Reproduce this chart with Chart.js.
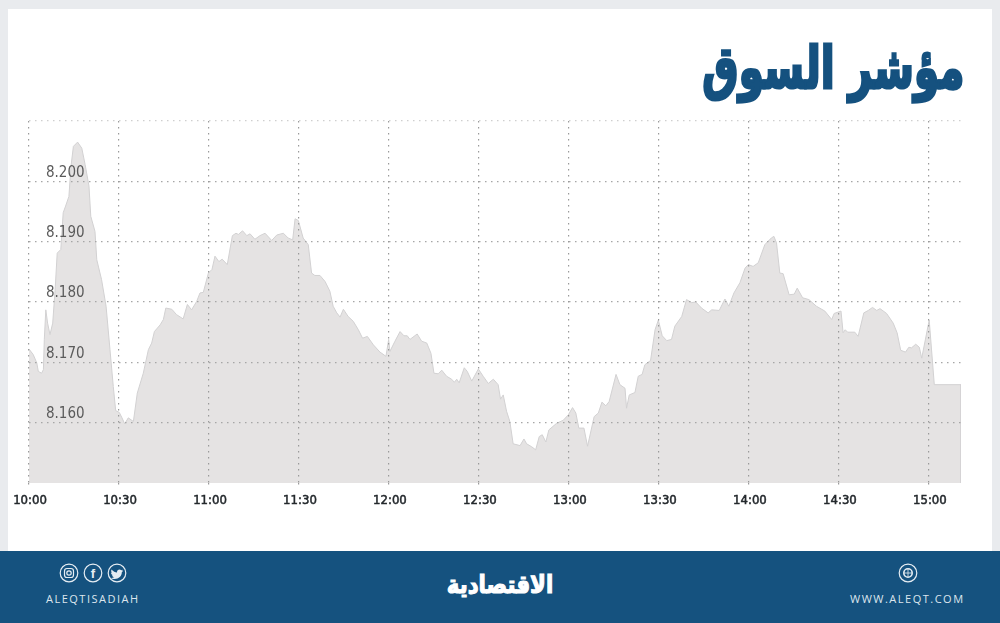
<!DOCTYPE html>
<html lang="ar">

<head>
    <meta charset="UTF-8" />
    <title>مؤشر السوق</title>
    <script src="https://cdn.jsdelivr.net/npm/chart.js@4"></script>
    <style>
        html, body { margin: 0; padding: 0; width: 1000px; height: 623px; overflow: hidden; background: #e9ebee; }
        .card { position: absolute; left: 8px; top: 9px; width: 984px; height: 542px; background: #fff; }
        #grafico { position: absolute; left: 0; top: 0; }
        .titulo { position: absolute; right: 36px; top: 28px; color: #15517f; font: bold 58px "DejaVu Sans", sans-serif; line-height: 80px; -webkit-text-stroke: 3px #15517f; direction: rtl; white-space: nowrap; transform: scaleX(0.7); transform-origin: right center; }
        .rodape { position: absolute; left: 0; top: 551px; width: 1000px; height: 72px; background: #15527f; }
        .logo { position: absolute; left: 400px; width: 200px; top: 14px; text-align: center; color: #fff; font: bold 25px "DejaVu Sans", sans-serif; line-height: 40px; -webkit-text-stroke: 1.2px #fff; direction: rtl; transform: scaleX(0.85); }
        .link { position: absolute; top: 41px; color: #dde6ee; font: 11px "Open Sans", sans-serif; line-height: 14px; letter-spacing: 1.5px; white-space: nowrap; }
        svg.icones { position: absolute; left: 0; top: 0; }
    </style>
</head>

<body>
    <div class="card"></div>
    <div class="titulo">مؤشر السوق</div>
    <canvas id="grafico" width="1000" height="623"></canvas>
    <div class="rodape">
        <svg class="icones" width="1000" height="72" fill="none" stroke="#e6edf3" stroke-width="1.2">
            <circle cx="69" cy="22" r="8.8" />
            <rect x="64.5" y="17.5" width="9" height="9" rx="2.5" />
            <circle cx="69" cy="22" r="2.2" />
            <circle cx="93" cy="22" r="8.8" />
            <text x="93" y="27" text-anchor="middle" fill="#e6edf3" stroke="none" font-family="Liberation Sans" font-weight="bold" font-size="13">f</text>
            <circle cx="117" cy="22" r="8.8" />
            <path d="M111.5 18.5c2 2 3.500 3 5.500 3c-.3-2.500 2.500-4 4.300-2.300l1.700-.5l-1 1.500l1-.2c-.3.6-.7 1-1.200 1.300c.2 3.700-3.500 7.200-8 6.700c-1.200-.1-2.200-.5-3-1c1.300.1 2.500-.2 3.500-1c-1.200-.1-2-.7-2.400-1.800h1.100c-1.200-.4-2-1.300-2-2.600l1.100.3c-1-.8-1.200-2.200-.6-3.400z" fill="#e6edf3" stroke="none" />
            <circle cx="908" cy="22" r="8.800" />
            <circle cx="908" cy="22" r="4.200" stroke-width="1.600" />
            <path d="M904 22h8M908 18v8" stroke-width="0.8" />
        </svg>
        <div class="logo">الاقتصادية</div>
        <div class="link" style="left: 46px;">ALEQTISADIAH</div>
        <div class="link" style="left: 850px;">WWW.ALEQT.COM</div>
    </div>

    <script>
        // minutos depois das 10:00
        const minutos = [
            0, 1.4, 2.6, 3.1, 4.2, 4.8, 5.1, 5.6, 6.2, 7, 7.9, 8.7, 9.4, 10.6, 11.4, 12.2, 13.3, 14, 14.8, 16.2,
            17.6, 18.7, 20, 20.6, 22, 22.6, 24.2, 25.7, 27, 28.1, 28.9, 30.1, 31, 31.9, 33.1, 34.8, 36.1, 38.1, 39.8, 40.9,
            41.8, 43.7, 44.8, 45.6, 47.6, 49.2, 51.4, 52.8, 54.2, 55.9, 57, 58.1, 59.8, 61, 62, 63.3, 64.4, 66.1, 67.8, 69,
            69.8, 71.2, 72.6, 73.7, 75.3, 77, 78.7, 80.9, 82.6, 84.8, 86.4, 87.9, 88.7, 89.8, 91.4, 93.1, 94.2, 95.3, 97, 98.7,
            100.3, 101.4, 102.6, 103.7, 104.8, 106.4, 108.1, 109.8, 111.2, 112.8, 114.8, 117, 119, 119.9, 120.3, 122, 123.7, 125, 126.1, 127,
            129.4, 130.9, 132.6, 134, 135, 136.4, 137.6, 139.2, 140.9, 141.8, 142.6, 143.4, 145.1, 146.1, 147.6, 149.8, 151.4, 153.1, 154.8, 156.4,
            157.2, 158.1, 159.2, 160.3, 161.4, 163.7, 165, 165.9, 167.6, 168.9, 170.1, 171.1, 172.3, 173.3, 175.9, 178.1, 179.8, 181.2, 182.3, 183.3,
            185, 186.2, 188.4, 189.8, 191, 192.3, 193.4, 195.7, 197, 198.7, 199.2, 200.1, 202, 203.1, 204.4, 205.3, 207.2, 208.7, 209.8, 211.1,
            212.6, 214.2, 215.3, 217.6, 219.2, 220.9, 222.3, 224.2, 226.4, 227.6, 230.1, 232, 233.3, 235, 237, 238.7, 239.8, 241.4, 243.1, 245.3,
            247, 248.3, 249.2, 250.3, 251.4, 253.4, 255.1, 256.1, 257.9, 260, 262.5, 265.3, 267.6, 268.4, 270.7, 271.4, 272.1, 272.9, 275.3, 276.4,
            278.3, 279.8, 281.2, 282.6, 283.7, 285.9, 288.1, 289.4, 290.6, 292.2, 293.3, 294.2, 295.6, 296.8, 297.6, 300.1, 301.8, 310.7, 310.7
        ];

        const valores = [
            8.1722, 8.1713, 8.1699, 8.1685, 8.1682, 8.1688, 8.1738, 8.1787, 8.1765, 8.1746, 8.1765, 8.1820, 8.1881, 8.1887, 8.1948, 8.1959, 8.1975, 8.2025, 8.2058, 8.2065,
            8.2055, 8.2028, 8.1992, 8.1942, 8.1917, 8.1870, 8.1837, 8.1793, 8.1721, 8.1660, 8.1620, 8.1617, 8.1608, 8.1598, 8.1608, 8.1602, 8.1649, 8.1682, 8.1721, 8.1732,
            8.1751, 8.1762, 8.1771, 8.1790, 8.1788, 8.1779, 8.1772, 8.1796, 8.1787, 8.1801, 8.1815, 8.1816, 8.1848, 8.1854, 8.1876, 8.1867, 8.1871, 8.1862, 8.1910, 8.1914,
            8.1912, 8.1918, 8.1910, 8.1913, 8.1904, 8.1910, 8.1914, 8.1902, 8.1911, 8.1914, 8.1906, 8.1903, 8.1938, 8.1935, 8.1906, 8.1895, 8.1848, 8.1844, 8.1844, 8.1834,
            8.1818, 8.1793, 8.1782, 8.1775, 8.1788, 8.1776, 8.1768, 8.1754, 8.1740, 8.1743, 8.1729, 8.1717, 8.1710, 8.1738, 8.1718, 8.1735, 8.1751, 8.1744, 8.1744, 8.1738,
            8.1747, 8.1735, 8.1732, 8.1715, 8.1682, 8.1681, 8.1687, 8.1677, 8.1672, 8.1667, 8.1672, 8.1666, 8.1691, 8.1685, 8.1669, 8.1689, 8.1677, 8.1665, 8.1672, 8.1663,
            8.1639, 8.1646, 8.1619, 8.1602, 8.1565, 8.1562, 8.1573, 8.1565, 8.1560, 8.1555, 8.1577, 8.1580, 8.1568, 8.1588, 8.1599, 8.1604, 8.1613, 8.1625, 8.1616, 8.1591,
            8.1591, 8.1561, 8.1610, 8.1616, 8.1634, 8.1628, 8.1635, 8.1680, 8.1663, 8.1657, 8.1624, 8.1646, 8.1650, 8.1677, 8.1680, 8.1696, 8.1703, 8.1754, 8.1770, 8.1744,
            8.1736, 8.1738, 8.1760, 8.1776, 8.1804, 8.1799, 8.1800, 8.1790, 8.1782, 8.1787, 8.1786, 8.1805, 8.1793, 8.1815, 8.1832, 8.1856, 8.1862, 8.1859, 8.1865, 8.1895,
            8.1904, 8.1909, 8.1898, 8.1848, 8.1847, 8.1812, 8.1813, 8.1823, 8.1807, 8.1804, 8.1793, 8.1785, 8.1771, 8.1781, 8.1785, 8.1749, 8.1754, 8.1750, 8.1750, 8.1743,
            8.1782, 8.1786, 8.1791, 8.1786, 8.1789, 8.1781, 8.1765, 8.1749, 8.1720, 8.1717, 8.1725, 8.1724, 8.1730, 8.1725, 8.1707, 8.1770, 8.1663, 8.1663, 8.15
        ];

        const rotulosY = ["8.160", "8.170", "8.180", "8.190", "8.200"];
        const rotulosX = ["10:00", "10:30", "11:00", "11:30", "12:00", "12:30", "13:00", "13:30", "14:00", "14:30", "15:00"];

        const pontos = minutos.map((m, i) => ({ x: m, y: valores[i] }));

        // linha de cima mais clara, linha de baixo escondida
        function corGradeY(ctx) {
            if (!ctx.tick) return "#a6a6a6";
            const txt = Number(ctx.tick.value).toFixed(3);
            if (txt === "8.150") return "rgba(0,0,0,0)";
            if (txt === "8.210") return "#cfcfcf";
            return "#a6a6a6";
        }

        new Chart(document.getElementById("grafico").getContext("2d"), {
            type: "line",
            data: {
                datasets: [{
                    data: pontos,
                    fill: "start",
                    backgroundColor: "#e5e3e3",
                    borderColor: "#d2d1d2",
                    borderWidth: 1,
                    pointRadius: 0,
                    tension: 0
                }]
            },
            options: {
                responsive: false,
                animation: false,
                layout: { padding: { left: 29, right: 39, top: 121, bottom: 110 } },
                plugins: { legend: { display: false }, tooltip: { enabled: false } },
                scales: {
                    x: {
                        type: "linear",
                        min: 0,
                        max: 310.7,
                        afterFit: (s) => { s.height = 30; },
                        border: { display: false, dash: [1.5, 4.5] },
                        grid: { z: 1, color: "#9a9a9a", lineWidth: 1.2, tickLength: 5, tickColor: "#9a9a9a", tickBorderDash: [1.5, 4.5] },
                        ticks: {
                            stepSize: 30,
                            includeBounds: false,
                            maxRotation: 0,
                            autoSkip: false,
                            padding: 5,
                            labelOffset: 1,
                            color: "#23282c",
                            textStrokeColor: "#23282c",
                            textStrokeWidth: 0.5,
                            font: { family: "DejaVu Sans Condensed", size: 13 },
                            callback: (v) => rotulosX[v / 30]
                        }
                    },
                    y: {
                        min: 8.15,
                        max: 8.21,
                        afterFit: (s) => { s.width = 0; },
                        border: { display: false, dash: [1.5, 4.5] },
                        grid: { z: 1, color: corGradeY, lineWidth: 1.2, drawTicks: false },
                        ticks: {
                            stepSize: 0.01,
                            mirror: true,
                            padding: 17,
                            labelOffset: -8.5,
                            z: 2,
                            color: "#5b5b5b",
                            font: { family: "DejaVu Sans Condensed", size: 15 },
                            callback: (v) => {
                                const txt = Number(v).toFixed(3);
                                return rotulosY.includes(txt) ? txt : "";
                            }
                        }
                    }
                }
            }
        });
    </script>
</body>

</html>
